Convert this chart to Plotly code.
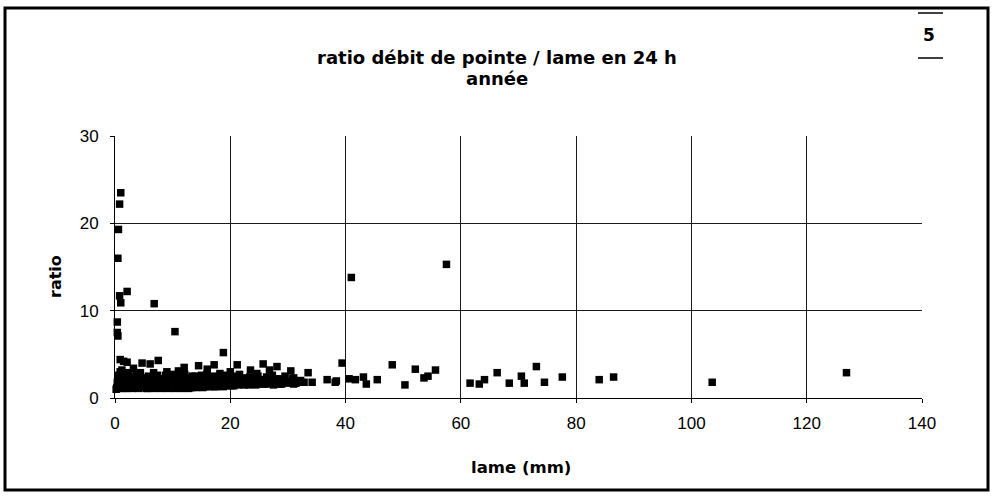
import plotly.graph_objects as go

# ---- data (lame in mm, ratio) ----
outlier_lame = [1.0, 0.8, 0.6, 0.5, 0.8, 2.1, 1.0, 6.8, 0.4, 0.4, 0.5, 10.4, 41.0, 57.5, 126.9, 103.6]
outlier_ratio = [23.5, 22.2, 19.3, 16.0, 11.7, 12.2, 10.9, 10.8, 8.7, 7.5, 7.1, 7.6, 13.8, 15.3, 2.9, 1.8]

fringe_lame = [0.9, 1.5, 2.1, 4.7, 6.1, 7.5, 12.0, 14.5, 17.2, 18.8, 21.2, 23.5, 25.7, 28.1, 30.5,
               33.5, 11.0, 9.0, 3.2, 16.0, 20.0, 26.8, 34.2, 36.8, 38.2]
fringe_ratio = [4.4, 4.2, 4.1, 4.0, 3.9, 4.3, 3.5, 3.7, 3.8, 5.2, 3.8, 3.2, 3.9, 3.6, 3.1,
                2.9, 3.1, 3.0, 3.4, 3.3, 3.0, 3.2, 1.8, 2.1, 1.8]

tail_lame = [38.4, 39.4, 40.6, 41.7, 43.1, 43.6, 45.5, 48.1, 50.3, 52.1, 53.6, 54.3, 55.6,
             61.6, 63.2, 64.1, 66.3, 68.4, 70.5, 71.0, 73.1, 74.5, 77.6, 84.0, 86.5]
tail_ratio = [1.95, 4.0, 2.2, 2.1, 2.4, 1.6, 2.1, 3.8, 1.5, 3.3, 2.3, 2.5, 3.2,
              1.7, 1.6, 2.1, 2.9, 1.7, 2.5, 1.7, 3.6, 1.8, 2.4, 2.1, 2.4]

cluster_a = [(0.3, 1.2), (0.5, 2.6), (0.7, 1.5), (0.9, 3.0), (1.1, 1.3), (1.3, 2.2), (1.5, 1.1), (1.7, 2.8),
             (1.9, 1.6), (2.2, 1.4), (2.5, 2.4), (2.8, 1.2), (3.1, 1.9), (3.4, 1.3), (3.7, 2.7), (4.0, 1.5),
             (4.3, 1.2), (4.6, 2.3), (4.9, 1.4), (5.2, 1.8), (5.5, 1.1), (5.8, 2.5), (6.1, 1.3), (6.4, 1.6),
             (6.7, 2.9), (7.0, 1.2), (7.3, 1.7), (7.6, 1.4), (7.9, 2.2), (8.2, 1.3), (8.5, 1.5), (8.8, 2.6),
             (9.1, 1.2), (9.4, 1.9), (9.7, 1.4), (10.0, 2.1), (10.3, 1.3), (10.6, 1.6), (10.9, 2.4), (11.2, 1.2),
             (11.5, 1.8), (11.8, 1.5), (12.1, 2.7), (12.4, 1.3), (12.7, 1.4), (13.0, 2.0), (13.3, 1.2), (13.6, 1.7),
             (13.9, 2.5), (14.2, 1.3), (14.5, 1.6), (14.8, 1.4), (15.1, 2.2), (15.4, 1.5), (15.7, 1.3), (16.0, 2.8),
             (16.3, 1.6), (16.6, 1.4), (16.9, 1.9), (17.2, 1.3), (17.5, 2.3), (17.8, 1.5), (18.1, 1.7), (18.4, 1.4),
             (18.7, 2.1), (19.0, 1.6), (19.3, 1.5), (19.6, 2.4), (19.9, 1.7), (20.2, 1.4), (20.5, 1.9), (20.8, 1.6),
             (21.1, 2.2), (21.4, 1.5), (21.7, 1.8), (22.0, 1.7), (22.4, 2.3), (22.8, 1.6), (23.2, 1.5), (23.6, 2.0),
             (24.0, 1.7), (24.4, 1.6), (24.8, 2.5), (25.2, 1.8), (25.6, 1.6), (26.0, 1.9), (26.5, 1.7), (27.0, 2.2),
             (27.5, 1.5), (28.0, 1.8), (28.6, 1.6), (29.2, 2.0), (29.8, 1.7), (30.4, 1.9), (31.0, 1.6), (31.8, 1.8)]

cluster_b = [(0.4, 1.8), (0.6, 1.4), (0.8, 2.0), (1.0, 1.6), (1.2, 3.2), (1.4, 1.9), (1.6, 1.3), (1.8, 2.1),
             (2.0, 1.5), (2.3, 1.8), (2.6, 1.3), (2.9, 2.0), (3.3, 1.6), (3.6, 1.2), (3.9, 1.9), (4.2, 2.6),
             (4.5, 1.5), (4.8, 1.8), (5.1, 1.2), (5.4, 2.0), (5.7, 1.6), (6.0, 1.3), (6.3, 2.2), (6.6, 1.5),
             (6.9, 1.8), (7.2, 1.3), (7.5, 2.0), (7.8, 1.6), (8.1, 1.2), (8.4, 1.9), (8.7, 1.4), (9.0, 2.3),
             (9.3, 1.5), (9.6, 1.3), (9.9, 1.7), (10.2, 1.5), (10.5, 1.9), (10.8, 1.3), (11.1, 1.6), (11.4, 2.2),
             (11.7, 1.4), (12.0, 1.7), (12.3, 1.3), (12.6, 2.3), (12.9, 1.5), (13.2, 1.8), (13.5, 1.3), (13.8, 1.6),
             (14.1, 2.0), (14.4, 1.4), (14.7, 1.7), (15.0, 2.6), (15.3, 1.5), (15.6, 1.8), (15.9, 1.4), (16.2, 2.1),
             (16.5, 1.6), (16.8, 1.8), (17.1, 2.5), (17.4, 1.5), (17.7, 1.9), (18.0, 1.6), (18.3, 2.2), (18.6, 1.5),
             (18.9, 1.8), (19.2, 2.6), (19.5, 1.6), (19.8, 2.1), (20.1, 1.5), (20.4, 1.8), (20.7, 2.5), (21.0, 1.6),
             (21.3, 1.9), (21.6, 2.7), (22.2, 1.6), (22.6, 2.0), (23.0, 1.7), (23.4, 2.4), (23.8, 1.6), (24.2, 1.9),
             (24.6, 2.8), (25.0, 1.7), (25.4, 2.1), (25.8, 1.6), (26.3, 2.4), (26.8, 1.8), (27.3, 2.6), (27.8, 1.7),
             (28.3, 2.2), (28.9, 1.6), (29.5, 2.5), (30.1, 1.9), (30.8, 2.2), (31.4, 1.7), (32.2, 2.0), (32.8, 1.8)]

cluster_c = [(0.2, 1.0), (0.5, 2.3), (0.7, 1.1), (1.0, 2.5), (1.3, 1.7), (1.6, 2.2), (2.0, 1.1), (2.4, 2.9),
             (3.0, 1.1), (3.5, 2.2), (4.1, 1.1), (4.4, 2.9), (5.0, 1.6), (5.6, 1.1), (6.2, 1.9), (6.8, 1.1),
             (7.4, 2.6), (8.0, 1.1), (8.6, 1.7), (9.2, 1.1), (9.8, 2.7), (10.4, 1.1), (11.0, 2.0), (11.6, 1.1),
             (12.2, 1.9), (12.8, 1.1), (13.4, 2.5), (14.0, 1.2), (14.6, 2.2), (15.2, 1.2), (15.8, 1.9), (16.4, 1.3),
             (17.0, 1.5), (17.6, 1.3), (18.2, 2.8), (18.8, 1.3), (19.4, 1.4), (20.0, 2.4), (20.6, 1.4), (21.2, 2.1),
             (22.4, 1.5), (23.2, 1.8), (24.4, 1.5), (25.6, 2.0), (26.6, 1.6), (27.6, 2.1), (29.0, 1.8), (31.0, 2.3)]

x_ticks = [0, 20, 40, 60, 80, 100, 120, 140]
y_ticks = [0, 10, 20, 30]

title_text = "ratio débit de pointe / lame en 24 h"
subtitle_text = "année"
x_title = "lame (mm)"
y_title = "ratio"
page_number = "5"

# ---- assemble ----
lame = outlier_lame + fringe_lame + tail_lame
ratio = outlier_ratio + fringe_ratio + tail_ratio
for grp in (cluster_a, cluster_b, cluster_c):
    lame += [p[0] for p in grp]
    ratio += [p[1] for p in grp]

W, H = 994, 496
L, R, T, B = 115, 922, 136, 398  # plot area in pixels


def px(xp):
    return (xp - L) / (R - L)


def py(yp):
    return (B - yp) / (B - T)


fig = go.Figure()
fig.add_trace(go.Scatter(
    x=lame, y=ratio, mode="markers",
    marker=dict(symbol="square", size=7.5, color="black", line=dict(width=0)),
    cliponaxis=False, showlegend=False, hoverinfo="x+y"))

tickfont = dict(family="Liberation Sans, Arial, sans-serif", size=17, color="black")
boldfont = dict(family="DejaVu Sans, sans-serif", size=16, color="black", weight="bold")

fig.update_layout(
    width=W, height=H,
    margin=dict(l=L, r=W - R, t=T, b=H - B),
    paper_bgcolor="white", plot_bgcolor="white",
    xaxis=dict(range=[0, 140], tickvals=x_ticks, ticktext=[str(v) for v in x_ticks],
               showgrid=True, gridcolor="#1a1a1a", gridwidth=1, zeroline=False,
               showline=True, linecolor="black", linewidth=1,
               ticks="outside", ticklen=4, tickcolor="black", tickfont=tickfont,
               ticklabelstandoff=6),
    yaxis=dict(range=[0, 30], tickvals=y_ticks, ticktext=[str(v) for v in y_ticks],
               showgrid=True, gridcolor="#1a1a1a", gridwidth=1, zeroline=False,
               showline=True, linecolor="black", linewidth=1,
               ticks="outside", ticklen=4, tickcolor="black", tickfont=tickfont,
               ticklabelstandoff=8),
    shapes=[
        dict(type="rect", xref="paper", yref="paper",
             x0=px(5), x1=px(988), y0=py(490), y1=py(8),
             line=dict(color="black", width=3), layer="above"),
        dict(type="line", xref="paper", yref="paper",
             x0=px(918), x1=px(943), y0=py(13), y1=py(13), line=dict(color="black", width=1.5)),
        dict(type="line", xref="paper", yref="paper",
             x0=px(918), x1=px(943), y0=py(58), y1=py(58), line=dict(color="black", width=1.5)),
    ],
    annotations=[
        dict(text=title_text, xref="paper", yref="paper", x=px(497), y=py(57),
             xanchor="center", yanchor="middle", showarrow=False, font=dict(boldfont, size=18)),
        dict(text=subtitle_text, xref="paper", yref="paper", x=px(497), y=py(79),
             xanchor="center", yanchor="middle", showarrow=False, font=dict(boldfont, size=18)),
        dict(text=x_title, xref="paper", yref="paper", x=px(521), y=py(467),
             xanchor="center", yanchor="middle", showarrow=False, font=dict(boldfont, size=16.5)),
        dict(text=y_title, xref="paper", yref="paper", x=px(55), y=py(277),
             xanchor="center", yanchor="middle", showarrow=False, textangle=-90, font=boldfont),
        dict(text=page_number, xref="paper", yref="paper", x=px(929), y=py(35),
             xanchor="center", yanchor="middle", showarrow=False, font=dict(boldfont, size=17)),
    ],
)

fig.write_html("out.html", config={"displayModeBar": False},
               post_script="document.body.style.margin='0';document.body.style.overflow='hidden';")
